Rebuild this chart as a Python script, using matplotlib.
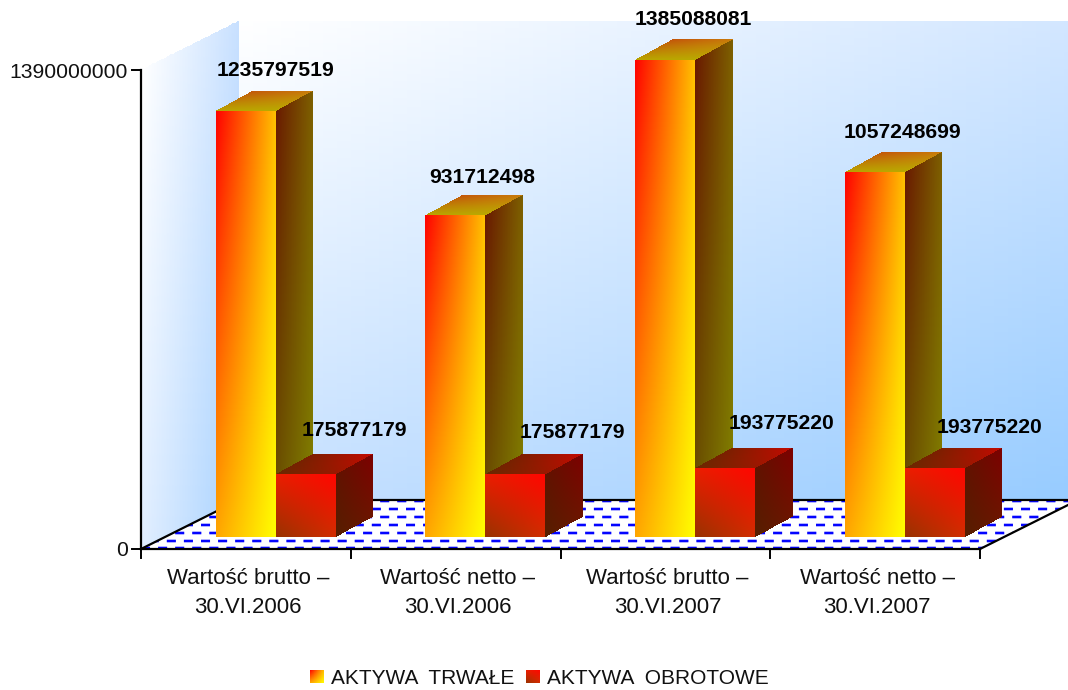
import numpy as np
import matplotlib
matplotlib.use("Agg")
import matplotlib.pyplot as plt
from matplotlib.patches import Polygon

plt.rcParams['font.family'] = ['Liberation Sans', 'DejaVu Sans']
plt.rcParams['lines.scale_dashes'] = False

# values
categories = ["Wartość brutto –\n30.VI.2006", "Wartość netto –\n30.VI.2006",
              "Wartość brutto –\n30.VI.2007", "Wartość netto –\n30.VI.2007"]
aktywa_trwale = [1235797519, 931712498, 1385088081, 1057248699]
aktywa_obrotowe = [175877179, 175877179, 193775220, 193775220]
yticks = [0, 1390000000]
legend_names = ["AKTYWA  TRWAŁE", "AKTYWA  OBROTOWE"]

# label nudges in pixels, the original ones are not quite regular
tall_lab_dx = [0.5, -3, -2, -2]
tall_lab_dy = [41, 38, 40, 40]
short_lab_dx = [-8, 0, -1, -2]
short_lab_dy = [46, 44, 47, 43]

W, H = 1068, 690
X0, Y0 = 141, 549            # pixel of the axis origin
XU = 209.75                  # pixels per category
YU = yticks[1] / 479.0       # value per pixel
FS = 15.2

fig = plt.figure(figsize=(W / 100, H / 100), dpi=100, facecolor='white')
ax = fig.add_axes([0, 0, 1, 1])
xlim = (-X0 / XU, (W - X0) / XU)
ylim = (-(H - Y0) * YU, Y0 * YU)


def px(dx):
    return dx / XU


def py(dy):
    return dy * YU


def face(o, a, b, tl, tr, bl, br, z=1):
    # o = top-left corner, a = vector along top edge, b = vector down the side
    nu, nv = 60, 200
    u = np.linspace(0, 1, nu + 1)
    v = np.linspace(0, 1, nv + 1)
    U, V = np.meshgrid(u, v)
    X = o[0] + U * a[0] + V * b[0]
    Y = o[1] + U * a[1] + V * b[1]
    uc, vc = np.meshgrid((u[:-1] + u[1:]) / 2, (v[:-1] + v[1:]) / 2)
    C = np.zeros((nv, nu, 3))
    for k in range(3):
        C[:, :, k] = ((1 - uc) * (1 - vc) * tl[k] + uc * (1 - vc) * tr[k]
                      + (1 - uc) * vc * bl[k] + uc * vc * br[k]) / 255.0
    ax.pcolormesh(X, Y, np.clip(C, 0, 1), shading='flat', linewidth=0, zorder=z)


def bar3d(x, w, val, front, side, top, z):
    dx, dy = px(37.5), py(20.5)
    # the original bars sit a touch off the axis scale
    h = val * 0.9945 + py(2.4)
    t = h + py(12)
    face((x, t), (w, 0), (0, -h), *front, z=z)
    face((x + w, t), (dx, dy), (0, -h), *side, z=z)
    # top parallelogram: back-left corner is the top-left of the shading
    face((x + dx, t + dy), (w, 0), (-dx, -dy), *top, z=z)


TALL_FRONT = ((255, 0, 0), (255, 192, 0), (255, 165, 0), (255, 255, 0))
TALL_SIDE = ((105, 25, 0), (125, 95, 0), (105, 85, 0), (128, 128, 0))
TALL_TOP = ((195, 85, 10), (200, 120, 10), (185, 165, 0), (185, 170, 0))
SHORT_FRONT = ((235, 30, 0), (255, 5, 0), (150, 50, 0), (210, 45, 0))
SHORT_SIDE = ((95, 20, 0), (125, 0, 0), (85, 30, 0), (110, 20, 0))
SHORT_TOP = ((125, 30, 0), (195, 10, 0), (105, 40, 0), (150, 25, 0))

fdx, fdy = px(98), py(49)
x_end = len(categories)
ymax = yticks[1]

# walls
face((fdx, ymax + fdy), (x_end, 0), (0, -ymax),
     (255, 255, 255), (210, 230, 255), (200, 225, 255), (150, 203, 255), z=0)
face((0, ymax), (fdx, fdy), (0, -ymax),
     (255, 255, 255), (200, 224, 255), (225, 238, 255), (168, 210, 255), z=0)
ax.add_patch(Polygon([(0, 0), (x_end, 0), (x_end + fdx, fdy), (fdx, fdy)],
                     closed=True, fc='white', ec='none', zorder=0.5))

# floor hatch
floor_clip = Polygon([(0, 0), (x_end, 0), (x_end + fdx, fdy), (fdx, fdy)],
                     closed=True, transform=ax.transData)
for i, off in enumerate([0.7, 8.3, 16, 24, 31.7, 39.7, 48]):
    for lw, col in [(2.7, '#a8a8ff'), (1.4, '#0000ff')]:
        ln, = ax.plot([0, x_end + fdx], [py(off), py(off)], color=col, lw=lw,
                      linestyle=(6 * (i % 2), (6.5, 5.8)), zorder=0.6,
                      dash_capstyle='butt')
        ln.set_clip_path(floor_clip)

# floor edges and axes
ax.plot([0, 0], [0, ymax], color='black', lw=1.6, zorder=0.8, solid_capstyle='projecting')
ax.plot([0, x_end], [0, 0], color='black', lw=1.6, zorder=0.8)
ax.plot([0, fdx], [0, fdy], color='black', lw=1.6, zorder=0.8)
ax.plot([x_end, x_end + fdx], [0, fdy], color='black', lw=1.6, zorder=0.8)
ax.plot([fdx, x_end + fdx], [fdy, fdy], color='black', lw=1.6, zorder=0.8)
for tick in yticks:
    ax.plot([px(-9), 0], [tick, tick], color='black', lw=1.4, zorder=0.8)
    ax.text(px(-13), tick - py(2), str(tick), ha='right', va='center', fontsize=FS,
            color='#111111')
for i in range(len(categories) + 1):
    ax.plot([i, i], [0, py(-9)], color='black', lw=1.4, zorder=0.8)

# bars
bw = px(60)
for i, cat in enumerate(categories):
    x = i + px(74.5)
    bar3d(x, bw, aktywa_trwale[i], TALL_FRONT, TALL_SIDE, TALL_TOP, 2 + i)
    bar3d(x + bw, bw, aktywa_obrotowe[i], SHORT_FRONT, SHORT_SIDE, SHORT_TOP, 2.5 + i)
    ax.text(x + bw + px(tall_lab_dx[i]), aktywa_trwale[i] + py(12 + tall_lab_dy[i]),
            str(aktywa_trwale[i]), ha='center', va='center', fontsize=FS,
            fontweight='bold', color='black', zorder=20)
    ax.text(x + bw + px(87 + short_lab_dx[i]), aktywa_obrotowe[i] + py(12 + short_lab_dy[i]),
            str(aktywa_obrotowe[i]), ha='center', va='center', fontsize=FS,
            fontweight='bold', color='black', zorder=20)
    ax.text(i + 0.5 + px(2), py(-44), cat, ha='center', va='center', fontsize=16,
            color='#111111', linespacing=1.53)

# legend
swatches = [TALL_FRONT, SHORT_FRONT]
leg_x = [310, 526]
for name, col, lx in zip(legend_names, swatches, leg_x):
    left = px(lx - X0)
    face((left, py(Y0 - 670)), (px(14), 0), (0, -py(13)), *col, z=5)
    ax.text(left + px(21), py(Y0 - 678), name, ha='left', va='center', fontsize=15,
            color='#111111')

ax.set_xlim(xlim)
ax.set_ylim(ylim)
ax.axis('off')
fig.savefig('out.png', dpi=100, facecolor='white')
